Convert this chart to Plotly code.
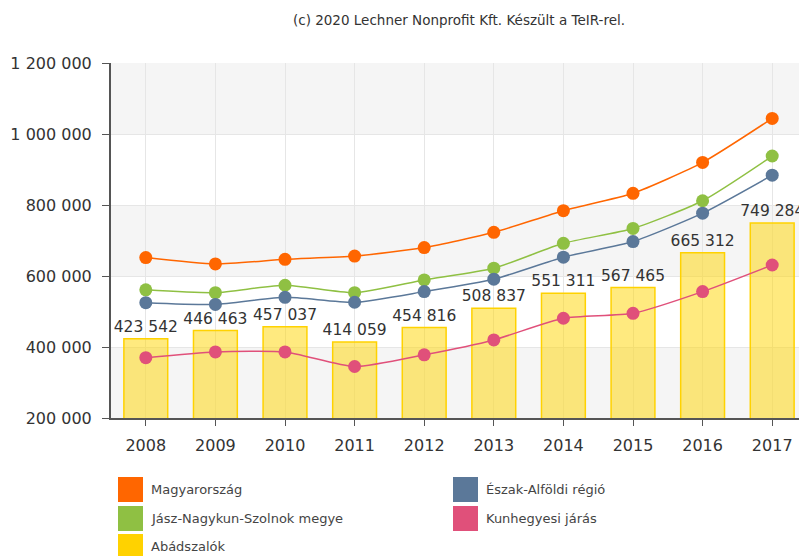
import plotly.graph_objects as go

years = ['2008', '2009', '2010', '2011', '2012', '2013', '2014', '2015', '2016', '2017']

magyarorszag = [652000, 634000, 647000, 656000, 680000, 723000, 784000, 833000, 920000, 1044000]
eszak_alfoldi = [525000, 520000, 540000, 526000, 556000, 591000, 653000, 697000, 777000, 884000]
jasz_nagykun = [561000, 553000, 574000, 553000, 589000, 622000, 692000, 734000, 812000, 938000]
kunhegyesi = [370000, 386000, 386000, 345000, 378000, 420000, 481000, 495000, 556000, 631000]
abadszalok = [423542, 446463, 457037, 414059, 454816, 508837, 551311, 567465, 665312, 749284]

colors = {
    'Magyarország': '#ff6600',
    'Észak-Alföldi régió': '#5b7899',
    'Jász-Nagykun-Szolnok megye': '#8fc043',
    'Kunhegyesi járás': '#e0507a',
    'Abádszalók': '#ffd200',
}

# the html page body has an 8px margin, so the figure is drawn 8px in
OFF = 8
W, H = 807 - OFF, 556 - OFF
L, R, T, B = 111 - OFF, 0, 63 - OFF, 138
pw, ph = W - L - R, H - T - B

fig = go.Figure()

fig.add_trace(go.Bar(
    x=years, y=abadszalok, name='Abádszalók', width=0.63,
    marker=dict(color='rgba(255,214,0,0.5)', line=dict(color='#ffd200', width=1.5)),
    texttemplate='%{y:,d}', textposition='outside', cliponaxis=False,
    constraintext='none', textfont=dict(size=15.5, color='#333333'), showlegend=False,
))

for name, vals in [('Magyarország', magyarorszag), ('Jász-Nagykun-Szolnok megye', jasz_nagykun),
                   ('Észak-Alföldi régió', eszak_alfoldi), ('Kunhegyesi járás', kunhegyesi)]:
    fig.add_trace(go.Scatter(
        x=years, y=vals, name=name, mode='lines+markers',
        line=dict(color=colors[name], width=1.5, shape='spline', smoothing=0.6),
        marker=dict(color=colors[name], size=13),
        showlegend=False, cliponaxis=False,
    ))

# background bands
shapes = []
for y0, y1 in [(1000000, 1200000), (600000, 800000), (200000, 400000)]:
    shapes.append(dict(type='rect', xref='paper', x0=0, x1=1, yref='y', y0=y0, y1=y1,
                       fillcolor='#f5f5f5', line=dict(width=0), layer='below'))

# legend, drawn by hand to get the big square swatches (page pixel positions)
annotations = []
legend_pos = [
    ('Magyarország', 118, 477), ('Észak-Alföldi régió', 453, 477),
    ('Jász-Nagykun-Szolnok megye', 118, 506), ('Kunhegyesi járás', 453, 506),
    ('Abádszalók', 118, 534),
]
for name, px, py in legend_pos:
    fx, fy = px - OFF, py - OFF
    shapes.append(dict(type='rect', xref='paper', yref='paper',
                       x0=(fx - L) / pw, x1=(fx + 25 - L) / pw,
                       y0=(H - B - fy) / ph, y1=(H - B - fy - 25) / ph,
                       fillcolor=colors[name], line=dict(width=0)))
    annotations.append(dict(xref='paper', yref='paper', x=(fx + 31 - L) / pw,
                            y=(H - B - fy - 12.5) / ph, text=name, showarrow=False,
                            xanchor='left', yanchor='middle',
                            font=dict(size=13, color='#444444')))

fig.update_layout(
    width=W, height=H,
    margin=dict(l=L, r=R, t=T, b=B, autoexpand=False),
    plot_bgcolor='white', paper_bgcolor='white',
    font=dict(family='DejaVu Sans', color='#333333'),
    separators='. ',
    title=dict(text='(c) 2020 Lechner Nonprofit Kft. Készült a TeIR-rel.',
               x=0.5, xref='paper', xanchor='center', y=1 - (20 - OFF) / H, yref='container',
               yanchor='middle', font=dict(size=13.5, color='#333333')),
    shapes=shapes,
    annotations=annotations,
    showlegend=False,
    xaxis=dict(type='category', categoryorder='array', categoryarray=years,
               range=[-0.5, len(years) - 0.5], automargin=False,
               showgrid=True, gridcolor='#e6e6e6', showline=True, linecolor='#555555',
               linewidth=2, ticks='outside', ticklen=6, tickcolor='#555555',
               ticklabelstandoff=6, tickfont=dict(size=16, color='#333333')),
    yaxis=dict(range=[200000, 1200000], dtick=200000, tickformat=',d', automargin=False,
               showgrid=True, gridcolor='#e6e6e6', showline=True, linecolor='#555555',
               linewidth=2, ticks='outside', ticklen=7, tickcolor='#555555',
               ticklabelstandoff=7,
               zeroline=False, tickfont=dict(size=16, color='#333333')),
)

fig.write_html('out.html')
